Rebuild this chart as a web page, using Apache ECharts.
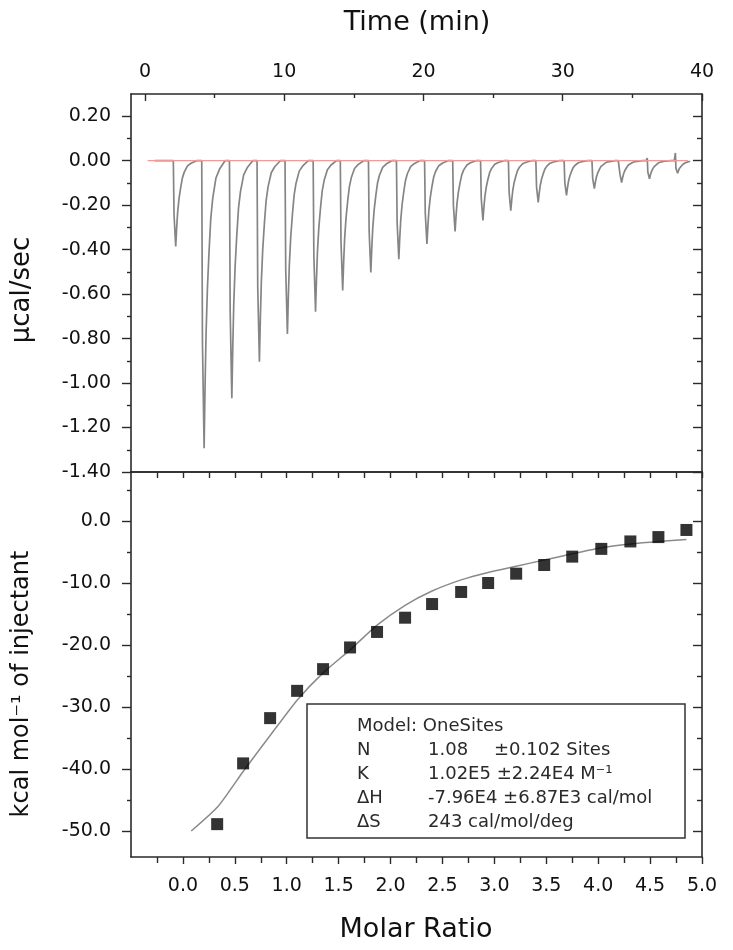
<!DOCTYPE html>
<html><head><meta charset="utf-8">
<script src="https://cdn.jsdelivr.net/npm/echarts@6/dist/echarts.min.js"></script>
<style>html,body{margin:0;padding:0;background:#fff}#c{width:733px;height:950px}</style>
</head><body><div id="c"></div>
<script>
// ---- tick values ----
const timeTicks = [0, 10, 20, 30, 40];
const timeMinorTicks = [5, 15, 25, 35];
const powerTicks = [0.2, 0, -0.2, -0.4, -0.6, -0.8, -1.0, -1.2, -1.4];
const powerMinorTicks = [0.1, -0.1, -0.3, -0.5, -0.7, -0.9, -1.1, -1.3];
const ratioTicks = [0, 0.5, 1, 1.5, 2, 2.5, 3, 3.5, 4, 4.5, 5];
const ratioMinorTicks = [-0.25, 0.25, 0.75, 1.25, 1.75, 2.25, 2.75, 3.25, 3.75, 4.25, 4.75];
const heatTicks = [0, -10, -20, -30, -40, -50];
const heatMinorTicks = [5, -5, -15, -25, -35, -45];

// ---- raw thermogram (top panel) ----
const injectionTimes = [2.21, 4.25, 6.24, 8.22, 10.23, 12.25, 14.20, 16.22, 18.23, 20.25,
  22.27, 24.27, 26.27, 28.24, 30.27, 32.27, 34.23, 36.23, 38.25];
const peakPower = [-0.386, -1.293, -1.068, -0.904, -0.779, -0.679, -0.584, -0.503, -0.443, -0.374,
  -0.318, -0.269, -0.225, -0.188, -0.156, -0.126, -0.098, -0.081, -0.056];
const injectionBlip = [0, 0, 0, 0, 0, 0, 0, 0, 0, 0, 0, 0, 0, 0, 0, 0, 0.005, 0.012, 0.035];
// peak profile read from the large peaks (time offset from the minimum, fraction of depth)
const peakShapeDt = [-0.17, -0.12, 0, 0.07, 0.14, 0.24, 0.36, 0.48, 0.62, 0.85, 1.1, 1.5];
const peakShapeFrac = [0, 0.63, 1, 0.78, 0.6, 0.44, 0.31, 0.2, 0.13, 0.06, 0.03, 0];
const traceStart = 0.7, traceEnd = 39.1;
const baselineTimes = [0.2, 39.0];
const baselineValues = [0, 0];

// ---- integrated heats (bottom panel) ----
const molarRatio = [0.33, 0.58, 0.84, 1.10, 1.35, 1.61, 1.87, 2.14, 2.40, 2.68, 2.94, 3.21,
  3.48, 3.75, 4.03, 4.31, 4.58, 4.85];
const heatPerMol = [-48.9, -39.1, -31.8, -27.4, -23.9, -20.4, -17.9, -15.6, -13.4, -11.45, -10.0, -8.5,
  -7.1, -5.75, -4.5, -3.3, -2.6, -1.45];
const fitRatio = [0.08, 0.34, 0.58, 0.84, 1.10, 1.35, 1.61, 1.87, 2.14, 2.40, 2.68, 2.94, 3.21,
  3.48, 3.75, 4.03, 4.31, 4.58, 4.85];
const fitHeat = [-50.0, -46.0, -40.4, -34.6, -28.9, -24.5, -20.8, -16.8, -13.6, -11.3, -9.5, -8.3, -7.3,
  -6.3, -5.3, -4.3, -3.7, -3.3, -3.0];

const legendLines = [
  ['Model: OneSites', '', ''],
  ['N', '1.08', '\u00b10.102 Sites'],
  ['K', '1.02E5 \u00b12.24E4 M\u207b\u00b9', ''],
  ['\u0394H', '-7.96E4 \u00b16.87E3 cal/mol', ''],
  ['\u0394S', '243 cal/mol/deg', '']
];

// ---- build ----
const trace = [[traceStart, 0]];
injectionTimes.forEach((t, i) => {
  const blip = injectionBlip[i];
  if (blip) { trace.push([t - 0.24, 0], [t - 0.16, blip]); }
  peakShapeDt.forEach((d, j) => {
    if (blip && j === 0) return;
    const x = t + d;
    if (x <= traceEnd) trace.push([x, peakPower[i] * peakShapeFrac[j]]);
  });
});
trace.push([traceEnd, 0]);
const baseline = baselineTimes.map((t, i) => [t, baselineValues[i]]);
const points = molarRatio.map((r, i) => [r, heatPerMol[i]]);
const fit = fitRatio.map((r, i) => [r, fitHeat[i]]);

const FONT = 'DejaVu Sans';
const INK = '#111';
const LINE = { lineStyle: { color: '#2a2a2a', width: 1.6 } };
const noLabel = { show: false };
const noSplit = { show: false };

function tickAxis(base, values, len, inside, line, labelCfg) {
  return Object.assign({
    type: 'value',
    axisLine: line ? Object.assign({ show: true, onZero: false }, LINE) : { show: false, onZero: false },
    axisTick: { show: true, inside: inside, length: len, customValues: values, lineStyle: { color: '#2a2a2a', width: 1.4 } },
    axisLabel: labelCfg || noLabel,
    splitLine: noSplit
  }, base);
}
const lab = (vals, fmt, margin) => ({
  show: true, customValues: vals, formatter: fmt, margin: margin,
  fontFamily: FONT, fontSize: 19, color: INK
});

const option = {
  animation: false,
  backgroundColor: '#fff',
  grid: [
    { left: 131, right: 31, top: 94, height: 378 },
    { left: 131, right: 31, top: 472, height: 385 }
  ],
  xAxis: [
    tickAxis({ gridIndex: 0, position: 'top', min: -1, max: 40 }, timeTicks, 7, true, true,
      lab(timeTicks, v => String(Math.round(v)), 12)),
    tickAxis({ gridIndex: 0, position: 'top', min: -1, max: 40 }, timeMinorTicks, 4, true, false),
    tickAxis({ gridIndex: 0, position: 'bottom', min: -1, max: 40 }, [], 0, true, true),
    tickAxis({ gridIndex: 1, position: 'bottom', min: -0.5, max: 5 }, ratioTicks, 7, false, true,
      lab(ratioTicks, v => v.toFixed(1), 20)),
    tickAxis({ gridIndex: 1, position: 'bottom', min: -0.5, max: 5 }, ratioMinorTicks, 6, false, false),
    tickAxis({ gridIndex: 1, position: 'top', min: -0.5, max: 5 }, ratioTicks.concat(ratioMinorTicks), 6, true, true)
  ],
  yAxis: [
    tickAxis({ gridIndex: 0, position: 'left', min: -1.4, max: 0.3 }, powerTicks, 9, false, true,
      lab(powerTicks, v => v.toFixed(2), 20)),
    tickAxis({ gridIndex: 0, position: 'left', min: -1.4, max: 0.3 }, powerMinorTicks, 4, false, false),
    tickAxis({ gridIndex: 0, position: 'right', min: -1.4, max: 0.3 }, powerTicks, 9, true, true),
    tickAxis({ gridIndex: 0, position: 'right', min: -1.4, max: 0.3 }, powerMinorTicks, 5, true, false),
    tickAxis({ gridIndex: 1, position: 'left', min: -54.2, max: 7.9 }, heatTicks, 9, false, true,
      lab(heatTicks, v => v.toFixed(1), 20)),
    tickAxis({ gridIndex: 1, position: 'left', min: -54.2, max: 7.9 }, heatMinorTicks, 4, false, false),
    tickAxis({ gridIndex: 1, position: 'right', min: -54.2, max: 7.9 }, heatTicks, 9, true, true),
    tickAxis({ gridIndex: 1, position: 'right', min: -54.2, max: 7.9 }, heatMinorTicks, 5, true, false)
  ],
  series: [
    { type: 'line', xAxisIndex: 0, yAxisIndex: 0, data: trace, showSymbol: false, symbol: 'none',
      lineStyle: { color: '#858585', width: 1.7 }, z: 2 },
    { type: 'line', xAxisIndex: 0, yAxisIndex: 0, data: baseline, showSymbol: false, symbol: 'none',
      lineStyle: { color: '#f29a9a', width: 1.3 }, z: 3 },
    { type: 'line', xAxisIndex: 3, yAxisIndex: 4, data: fit, showSymbol: false, symbol: 'none', smooth: 0.2,
      lineStyle: { color: '#8a8a8a', width: 1.5 }, z: 2 },
    { type: 'scatter', xAxisIndex: 3, yAxisIndex: 4, data: points, symbol: 'rect', symbolSize: 12,
      itemStyle: { color: '#000' }, z: 4 }
  ],
  graphic: [
    { type: 'text', x: 417, y: 23, style: { text: 'Time (min)', fontFamily: FONT, fontSize: 27, fill: INK, align: 'center', verticalAlign: 'middle' } },
    { type: 'text', x: 22, y: 290, rotation: Math.PI / 2, style: { text: '\u00b5cal/sec', fontFamily: FONT, fontSize: 26, fill: INK, align: 'center', verticalAlign: 'middle' } },
    { type: 'text', x: 22, y: 684, rotation: Math.PI / 2, style: { text: 'kcal mol\u207b\u00b9 of injectant', fontFamily: FONT, fontSize: 24, fill: INK, align: 'center', verticalAlign: 'middle' } },
    { type: 'text', x: 416, y: 930, style: { text: 'Molar Ratio', fontFamily: FONT, fontSize: 27, fill: INK, align: 'center', verticalAlign: 'middle' } },
    { type: 'rect', shape: { x: 307, y: 704, width: 378, height: 134 }, style: { fill: '#fff', stroke: '#333', lineWidth: 1.5 }, z: 10 }
  ].concat(
    legendLines.flatMap((row, i) => {
      const y = 726 + i * 24;
      const st = (t) => ({ text: t, fontFamily: FONT, fontSize: 18, fill: '#2a2a2a', verticalAlign: 'middle' });
      const out = [{ type: 'text', x: 357, y: y, z: 11, style: st(row[0]) }];
      if (row[1]) out.push({ type: 'text', x: 428, y: y, z: 11, style: st(row[1]) });
      if (row[2]) out.push({ type: 'text', x: 494, y: y, z: 11, style: st(row[2]) });
      return out;
    })
  )
};

const chart = echarts.init(document.getElementById('c'), null, { renderer: 'canvas' });
chart.setOption(option);
</script>
</body></html>
